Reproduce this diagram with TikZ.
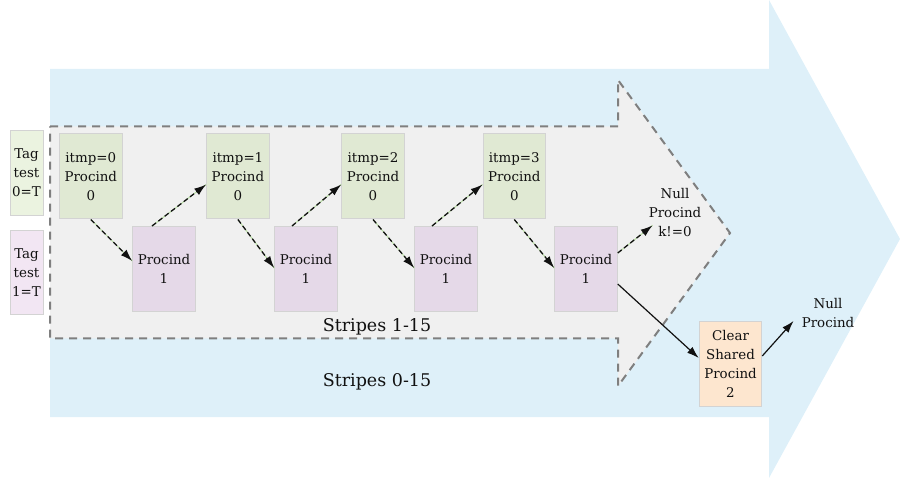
\documentclass[tikz,border=0pt]{standalone}
\usepackage{fontspec}
\setmainfont{DejaVu Serif}
\newfontfamily\diagserif{DejaVu Serif}
\usetikzlibrary{arrows.meta,calc}
\definecolor{bigblue}{HTML}{DEF0F9}
\definecolor{innergray}{HTML}{F0F0F0}
\definecolor{dashgray}{HTML}{7F7F7F}
\definecolor{boxgreen}{HTML}{E0E9D3}
\definecolor{boxpurple}{HTML}{E5D9E8}
\definecolor{taggreen}{HTML}{EBF3E0}
\definecolor{tagpurple}{HTML}{F2E6F3}
\definecolor{boxorange}{HTML}{FDE6CF}
\definecolor{boxborder}{HTML}{D3D3D3}
\definecolor{txt}{HTML}{111111}
\definecolor{lightgreenline}{HTML}{B8DCA4}
\tikzset{
  cell/.style={draw=boxborder, line width=1pt, minimum width=62.5pt, minimum height=85pt,
    inner sep=0pt, align=center, text=txt, font=\diagserif\fontsize{13.4}{19}\selectfont},
  tagcell/.style={cell, minimum width=33pt, minimum height=84.5pt},
  plain/.style={inner sep=0pt, align=center, text=txt, font=\diagserif\fontsize{13.4}{19}\selectfont},
  stripelabel/.style={inner sep=0pt, anchor=base, text=txt, font=\diagserif\fontsize{17.5}{20}\selectfont},
  dasharrow/.style={draw=txt, line width=1.3pt, dash pattern=on 5pt off 3pt,
    -{Latex[length=12pt,width=8pt]},
    preaction={draw=lightgreenline, line width=1pt, solid, -}},
  solidarrow/.style={draw=txt, line width=1.2pt, -{Latex[length=12pt,width=8pt]}}
}
\begin{document}
\begin{tikzpicture}[x=1pt,y=-1pt]
\useasboundingbox (0,0) rectangle (900,478);
% big blue arrow
\fill[bigblue] (50,69) -- (769,69) -- (769,0) -- (900,239) -- (769,478) -- (769,417) -- (50,417) -- cycle;
% inner gray dashed arrow
\filldraw[fill=innergray, draw=dashgray, line width=2pt, dash pattern=on 8pt off 6pt]
  (50,126.5) -- (618,126.5) -- (618,80) -- (730,233) -- (618,386) -- (618,338.5) -- (50,338.5) -- cycle;
% stripe labels
\node[stripelabel] (s115) at (377,332) {Stripes 1-15};
\node[stripelabel] (s015) at (377,387) {Stripes 0-15};
% tag boxes
\node[tagcell, fill=taggreen] (tag0) at (26.5,173) {Tag\\test\\0=T};
\node[tagcell, fill=tagpurple] (tag1) at (26.5,272.5) {Tag\\test\\1=T};
% green boxes
\node[cell, fill=boxgreen] (g0) at (90.8,176.5) {itmp=0\\Procind\\0};
\node[cell, fill=boxgreen] (g1) at (237.9,176.5) {itmp=1\\Procind\\0};
\node[cell, fill=boxgreen] (g2) at (373,176.5) {itmp=2\\Procind\\0};
\node[cell, fill=boxgreen] (g3) at (514.3,176.5) {itmp=3\\Procind\\0};
% purple boxes
\node[cell, fill=boxpurple] (p0) at (164,269) {Procind\\1};
\node[cell, fill=boxpurple] (p1) at (306,269) {Procind\\1};
\node[cell, fill=boxpurple] (p2) at (446,269) {Procind\\1};
\node[cell, fill=boxpurple] (p3) at (586,269) {Procind\\1};
% right part
\node[plain] (nk) at (675,213) {Null\\Procind\\k!=0};
\node[cell, fill=boxorange] (cl) at (730.5,364) {Clear\\Shared\\Procind\\2};
\node[plain] (nn) at (828,313) {Null\\Procind};
% connectors
\draw[dasharrow] (g0.south) -- ([yshift=8pt]p0.west);
\draw[dasharrow] ([xshift=-12pt]p0.north) -- ([yshift=-8pt]g1.west);
\draw[dasharrow] (g1.south) -- ([yshift=1pt]p1.west);
\draw[dasharrow] ([xshift=-14pt]p1.north) -- ([yshift=-8pt]g2.west);
\draw[dasharrow] (g2.south) -- ([yshift=1pt]p2.west);
\draw[dasharrow] ([xshift=-14pt]p2.north) -- ([yshift=-8pt]g3.west);
\draw[dasharrow] (g3.south) -- ([yshift=1pt]p3.west);
\draw[dasharrow] ([yshift=16pt]p3.east) -- ([xshift=4pt,yshift=12pt]nk.south west);
\draw[solidarrow] ([yshift=-15pt]p3.east) -- ([yshift=6pt]cl.west);
\draw[solidarrow] ([yshift=8pt]cl.east) -- ([xshift=-8pt,yshift=-8pt]nn.west);
\end{tikzpicture}
\end{document}
